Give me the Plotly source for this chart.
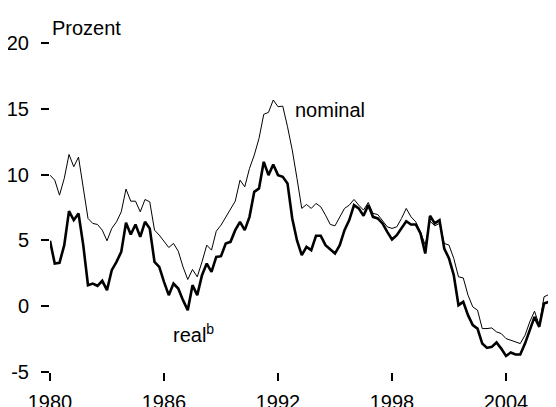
import plotly.graph_objects as go

# Quarterly data starting 1980 Q1
start_year = 1980
nominal = [
    9.96, 9.58, 8.44, 9.71, 11.53, 10.6, 11.33, 8.95, 6.67, 6.29, 6.21, 5.78,
    4.97, 5.91, 6.41, 7.17, 8.9, 7.98, 7.98, 7.17, 8.11, 7.93, 5.78, 5.4,
    4.89, 4.46, 4.77, 4.18, 2.99, 2.03, 2.79, 2.23, 3.37, 4.64, 4.26, 5.70,
    6.16, 6.79, 7.35, 7.98, 9.58, 9.07, 10.47, 11.48, 12.75, 14.58, 14.73, 15.67,
    15.16, 15.2, 13.64, 11.86, 9.7, 7.43, 7.73, 7.43, 7.81, 7.55, 6.92, 6.21,
    6.11, 6.79, 7.43, 7.68, 8.11, 7.68, 7.30, 7.88, 7.05, 6.97, 6.54, 6.03,
    5.91, 6.03, 6.67, 7.43, 6.79, 6.41, 5.65, 4.64, 6.46, 6.11, 6.29, 4.77,
    4.64, 3.63, 2.23, 2.15, 0.84, -0.05, -0.30, -1.70, -1.70, -1.65, -1.95, -2.08,
    -2.46, -2.59, -2.76, -2.84, -2.21, -1.19, -0.38, -1.44, 0.71, 0.89, 0.96, -2.5,
]
real = [
    4.97, 3.24, 3.30, 4.64, 7.22, 6.54, 7.05, 4.64, 1.60, 1.72, 1.55, 1.93,
    1.22, 2.74, 3.37, 4.13, 6.34, 5.45, 6.21, 5.27, 6.41, 5.91, 3.37, 2.99,
    1.85, 0.84, 1.72, 1.34, 0.46, -0.30, 1.60, 0.84, 2.36, 3.24, 2.61, 3.75,
    3.80, 4.77, 4.89, 5.78, 6.41, 5.78, 6.79, 8.69, 8.95, 10.97, 9.96, 10.77,
    9.96, 9.83, 9.33, 6.67, 5.0, 3.88, 4.51, 4.26, 5.35, 5.35, 4.64, 4.33,
    4.0, 4.64, 5.78, 6.54, 7.68, 7.43, 6.87, 7.68, 6.79, 6.67, 6.29, 5.65,
    5.07, 5.40, 5.91, 6.46, 6.21, 6.21, 5.53, 4.0, 6.87, 6.29, 6.54, 4.38,
    3.63, 2.36, 0.08, 0.33, -0.68, -1.44, -1.70, -2.84, -3.17, -3.09, -2.76, -3.22,
    -3.78, -3.52, -3.67, -3.67, -2.84, -1.83, -0.81, -1.57, 0.2, 0.33, 0.46, -3.0,
]
x_tick_years = [1980, 1986, 1992, 1998, 2004]
y_tick_vals = [-5, 0, 5, 10, 15, 20]
y_tick_text = ["-5", "0", "5", "10", "15", "20"]

x = [start_year + i / 4 for i in range(len(nominal))]

FONT = "Liberation Sans, Arial, sans-serif"
FS = 20

fig = go.Figure()
fig.add_trace(go.Scatter(x=x, y=nominal, mode="lines", line=dict(color="black", width=1), name="nominal"))
fig.add_trace(go.Scatter(x=x, y=real, mode="lines", line=dict(color="black", width=2.6), name="real"))

fig.update_layout(
    width=548, height=399,
    margin=dict(l=42, r=0, t=35, b=35),
    paper_bgcolor="white", plot_bgcolor="white",
    showlegend=False,
    font=dict(family=FONT, size=FS, color="black"),
    xaxis=dict(range=[1980, 1980 + 506 / 19], tickvals=x_tick_years, ticktext=[str(v) for v in x_tick_years],
               ticks="outside", ticklen=8, tickwidth=2, tickcolor="black", automargin=False,
               ticklabelstandoff=4,
               showgrid=False, zeroline=False, showline=False),
    yaxis=dict(range=[-5, 20], tickvals=y_tick_vals, ticktext=y_tick_text,
               ticks="outside", ticklen=8, tickwidth=2, tickcolor="black", automargin=False,
               ticklabelstandoff=8,
               showgrid=False, zeroline=False, showline=False),
    annotations=[
        dict(text="Prozent", xref="paper", yref="paper", x=0, y=1.047, xanchor="left", yanchor="middle",
             showarrow=False, font=dict(size=FS)),
        dict(text="nominal", xref="x", yref="y", x=1992.8, y=14.9, xanchor="left", yanchor="middle",
             showarrow=False, font=dict(size=FS)),
        dict(text="real<sup>b</sup>", xref="x", yref="y", x=1986.35, y=-2.1, xanchor="left", yanchor="middle",
             showarrow=False, font=dict(size=FS)),
    ],
)

fig.write_html("out.html")
